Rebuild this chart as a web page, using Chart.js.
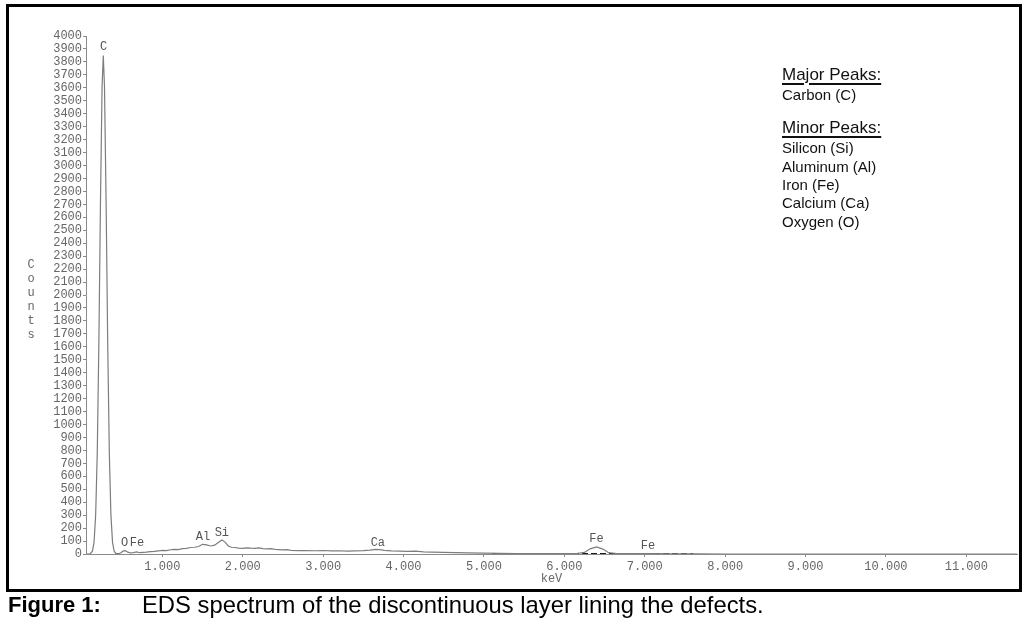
<!DOCTYPE html>
<html>
<head>
<meta charset="utf-8">
<script src="https://cdn.jsdelivr.net/npm/chart.js@4.4.0/dist/chart.umd.min.js"></script>
<style>
  body { margin: 0; background: #fff; width: 1028px; height: 618px; overflow: hidden; position: relative; font-family: "Liberation Sans", Arial, sans-serif; }
  #spectrum { position: absolute; left: 0; top: 0; }
  #frame { position: absolute; left: 6px; top: 4px; width: 1010px; height: 582px; border: 3px solid #000; pointer-events: none; }
  .counts { position: absolute; left: 25px; top: 258px; writing-mode: vertical-lr; text-orientation: upright; font: 12px "Liberation Mono", monospace; color: #666; line-height: 12px; }
  .note { position: absolute; left: 782px; color: #111; white-space: nowrap; }
  .head { font-size: 17px; line-height: 20px; text-decoration: underline; text-decoration-thickness: 1.5px; text-underline-offset: 3px; }
  .item { font-size: 15px; line-height: 18px; }
  .caption { position: absolute; top: 592px; line-height: 26px; color: #000; white-space: nowrap; }
</style>
</head>
<body>
<canvas id="spectrum" width="1028" height="618"></canvas>
<div id="frame"></div>
<div class="counts">Counts</div>

<div class="note head" style="top:65px">Major Peaks:</div>
<div class="note item" style="top:86px">Carbon (C)</div>
<div class="note head" style="top:118px">Minor Peaks:</div>
<div class="note item" style="top:139px">Silicon (Si)</div>
<div class="note item" style="top:158px">Aluminum (Al)</div>
<div class="note item" style="top:176px">Iron (Fe)</div>
<div class="note item" style="top:194px">Calcium (Ca)</div>
<div class="note item" style="top:213px">Oxygen (O)</div>

<div class="caption" style="left:8px; font-size:22px; font-weight:bold">Figure 1:</div>
<div class="caption" style="left:142px; font-size:23.8px">EDS spectrum of the discontinuous layer lining the defects.</div>

<script>
// spectrum (keV / counts)
const energyKeV = [
    0.05, 0.10, 0.13, 0.15, 0.17, 0.19, 0.21, 0.23, 0.25, 0.265,
    0.28, 0.30, 0.32, 0.34, 0.36, 0.38, 0.40, 0.42, 0.45, 0.48,
    0.51, 0.54, 0.57, 0.60, 0.64, 0.68, 0.72, 0.76, 0.80, 0.85,
    0.90, 0.95, 1.00, 1.05, 1.10, 1.15, 1.20, 1.25, 1.30, 1.35,
    1.40, 1.45, 1.50, 1.55, 1.60, 1.65, 1.70, 1.74, 1.78, 1.82,
    1.86, 1.90, 1.95, 2.00, 2.05, 2.10, 2.15, 2.20, 2.25, 2.30,
    2.35, 2.40, 2.45, 2.50, 2.55, 2.60, 2.70, 2.80, 2.90, 3.00,
    3.10, 3.20, 3.30, 3.40, 3.50, 3.58, 3.65, 3.70, 3.76, 3.85,
    3.95, 4.05, 4.15, 4.25, 4.35, 4.50, 4.65, 4.80, 5.00, 5.20,
    5.40, 5.60, 5.80, 6.00, 6.15, 6.25, 6.32, 6.40, 6.48, 6.55,
    6.65, 6.80, 7.00, 7.10, 7.30, 7.50, 7.65, 8.00, 9.00, 10.00,
    11.00, 11.63
];
const counts = [
    0, 0, 22, 90, 300, 780, 1630, 2720, 3610, 3850,
    3610, 2720, 1630, 780, 300, 90, 22, 5, 2, 8,
    22, 26, 14, 8, 11, 17, 10, 12, 14, 18,
    20, 24, 28, 26, 33, 36, 34, 42, 44, 50,
    52, 58, 75, 70, 62, 68, 90, 108, 92, 62,
    52, 50, 46, 44, 48, 45, 44, 47, 42, 40,
    41, 36, 34, 32, 33, 28, 26, 27, 25, 27,
    24, 25, 22, 24, 26, 30, 36, 34, 28, 24,
    22, 20, 22, 16, 14, 12, 10, 8, 6, 5,
    4, 4, 3, 3, 4, 12, 40, 55, 38, 10,
    4, 3, 4, 3, 2, 2, 1, 0, 0, 0,
    0, 0
];

// dark baseline stretches
const darkKeV = [0.42, 0.46, 0.46, 5.10, 7.60];
const darkCounts = [0, 0, null, 0, 0];

// peak markers
const peakNames = ['C', 'O', 'Fe', 'Al', 'Si', 'Ca', 'Fe', 'Fe'];
const peakKeV = [0.27, 0.53, 0.685, 1.505, 1.74, 3.68, 6.40, 7.04];
const peakLabelCounts = [3915, 90, 90, 133, 160, 87, 120, 62];

const xTickValues = [1, 2, 3, 4, 5, 6, 7, 8, 9, 10, 11];
const xMin = 0.05;
const xMax = 11.63;
const yMax = 4000;
const yStep = 100;

const axisGray = '#8a8a8a';
const labelGray = '#666';

Chart.defaults.font.family = '"Liberation Mono", monospace';
Chart.defaults.font.size = 12;

const peakLabelPlugin = {
    id: 'peakLabels',
    afterDatasetsDraw(chart) {
        const { ctx, scales: { x, y } } = chart;
        ctx.save();
        ctx.font = '12px "Liberation Mono", monospace';
        ctx.fillStyle = '#555';
        ctx.textAlign = 'center';
        ctx.textBaseline = 'middle';
        peakNames.forEach((name, i) => {
            ctx.fillText(name, x.getPixelForValue(peakKeV[i]), y.getPixelForValue(peakLabelCounts[i]));
        });
        ctx.restore();
    }
};

const ctx = document.getElementById('spectrum').getContext('2d');

new Chart(ctx, {
    type: 'line',
    data: {
        datasets: [{
            data: energyKeV.map((e, i) => ({ x: e, y: counts[i] })),
            borderColor: '#7d7d7d',
            borderWidth: 1.2,
            pointRadius: 0,
            tension: 0
        }, {
            data: darkKeV.map((e, i) => ({ x: e, y: darkCounts[i] })),
            borderColor: '#1a1a1a',
            borderWidth: 2,
            borderDash: [6, 3],
            pointRadius: 0
        }]
    },
    options: {
        responsive: false,
        animation: false,
        devicePixelRatio: 1,
        layout: { padding: { left: 40, top: 36, right: 11, bottom: 24 } },
        plugins: {
            legend: { display: false },
            tooltip: { enabled: false }
        },
        scales: {
            x: {
                type: 'linear',
                min: xMin,
                max: xMax,
                afterBuildTicks: s => { s.ticks = xTickValues.map(v => ({ value: v })); },
                afterFit: s => { s.height = 40; },
                ticks: {
                    callback: v => Number(v).toFixed(3),
                    color: labelGray,
                    padding: 3,
                    maxRotation: 0,
                    autoSkip: false
                },
                grid: { drawOnChartArea: false, drawTicks: true, tickLength: 3, color: axisGray },
                border: { color: axisGray, width: 1 },
                title: {
                    display: true,
                    text: 'keV',
                    color: labelGray,
                    font: { size: 12 },
                    padding: { top: 0, bottom: 8 }
                }
            },
            y: {
                min: 0,
                max: yMax,
                afterFit: s => { s.width = 46; },
                ticks: {
                    stepSize: yStep,
                    autoSkip: false,
                    color: labelGray,
                    padding: 1,
                    callback: v => String(v)
                },
                grid: { drawOnChartArea: false, drawTicks: true, tickLength: 3, color: axisGray },
                border: { color: axisGray, width: 1 }
            }
        }
    },
    plugins: [peakLabelPlugin]
});
</script>
</body>
</html>
